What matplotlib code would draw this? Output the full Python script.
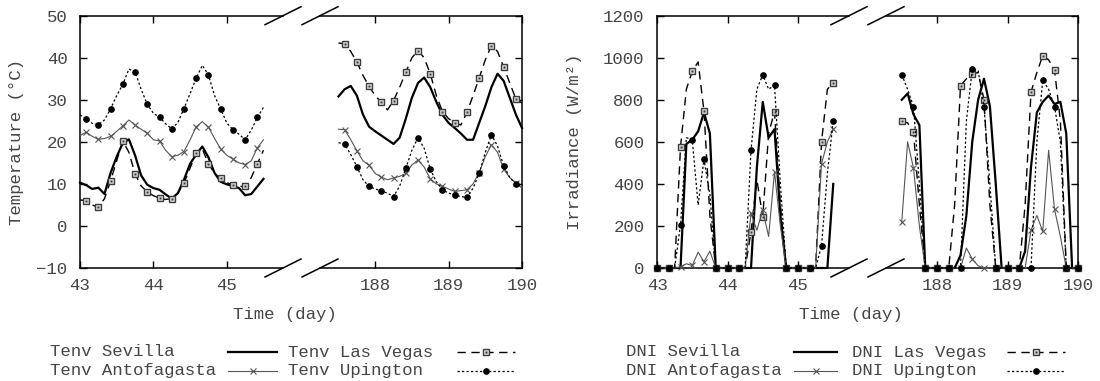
# Environment temperature and DNI for four sites, two short periods of the year
# drawn on broken time axes (gnuplot look).
import numpy as np
import matplotlib
matplotlib.use('Agg')
import matplotlib.pyplot as plt
from matplotlib.lines import Line2D

plt.rcParams['font.family'] = ['Liberation Mono', 'DejaVu Sans Mono']
plt.rcParams['font.size'] = 12.5

# time grid, 2 h steps, for each side of the break
timeA = 43 + np.arange(31) / 12.0
timeB = 187.5 + np.arange(31) / 12.0

# environment temperature (C), days 43-45.5
tempSevillaA = [10.3, 9.7, 8.8, 9.1, 7.6, 12.6, 16.5, 19.7, 20.6, 16.8, 12.0, 9.8, 9.0, 8.6, 7.5,
                6.5, 7.8, 11.0, 14.8, 17.0, 18.9, 16.3, 12.6, 10.5, 9.9, 9.5, 9.0, 7.3, 7.6, 9.4, 11.2]
tempLasVegasA = [6.2, 6.0, 5.0, 4.4, 6.5, 10.7, 15.5, 20.2, 17.5, 12.4, 9.5, 8.1, 7.2, 6.6, 6.3,
                 6.5, 7.8, 10.2, 13.8, 17.3, 18.3, 14.8, 12.5, 11.3, 10.3, 9.7, 9.4, 9.4, 11.5, 14.8, 18.0]
tempAntofagastaA = [21.5, 22.3, 21.3, 20.6, 20.8, 21.3, 22.5, 23.8, 25.2, 24.0, 23.0, 22.0, 20.5, 20.2, 18.0,
                    16.5, 16.8, 17.7, 20.5, 23.6, 24.8, 23.5, 20.8, 18.3, 16.8, 15.9, 15.0, 14.6, 15.5, 18.6, 20.5]
tempUpingtonA = [26.4, 25.5, 24.4, 24.1, 25.2, 27.9, 31.0, 33.7, 37.3, 36.7, 32.5, 28.9, 26.8, 25.9, 24.3,
                 23.1, 24.6, 27.9, 31.5, 35.2, 38.2, 35.9, 31.0, 27.8, 24.5, 22.9, 21.8, 20.5, 22.8, 25.8, 28.2]

# environment temperature (C), days 187.5-190
tempSevillaB = [30.8, 32.5, 33.3, 31.0, 26.5, 23.6, 22.5, 21.5, 20.5, 19.5, 21.0, 25.5, 30.5, 34.0, 35.3,
                33.0, 29.5, 26.4, 24.5, 23.3, 22.0, 20.5, 20.5, 24.5, 28.5, 33.0, 36.2, 34.5, 30.5, 26.5, 23.3]
tempLasVegasB = [43.5, 43.3, 41.5, 39.0, 35.8, 33.2, 31.0, 29.4, 27.6, 29.8, 33.0, 36.5, 40.0, 41.7, 40.0,
                 36.2, 31.0, 27.2, 25.5, 24.6, 24.0, 27.0, 31.0, 35.2, 39.5, 42.9, 41.5, 37.8, 34.0, 30.2, 29.2]
tempAntofagastaB = [23.0, 22.9, 20.5, 17.9, 15.5, 14.4, 12.5, 11.6, 11.0, 11.4, 11.8, 12.5, 14.5, 15.7, 14.0,
                    11.2, 10.0, 9.4, 8.8, 8.2, 8.4, 8.6, 10.0, 12.7, 16.5, 19.3, 17.5, 13.5, 11.5, 10.2, 9.0]
tempUpingtonB = [19.8, 19.5, 17.0, 14.1, 11.0, 9.4, 8.8, 8.3, 7.8, 7.0, 9.5, 13.7, 18.0, 21.0, 18.5,
                 13.5, 10.5, 8.6, 7.8, 7.4, 7.0, 6.8, 9.0, 12.5, 17.5, 21.7, 19.0, 14.3, 11.5, 10.0, 9.4]

# direct normal irradiance (W/m2), days 43-45.5
dniSevillaA = [0, 0, 0, 0, 0, 590, 610, 650, 740, 640, 0, 0, 0, 0, 0,
               0, 0, 480, 790, 620, 660, 250, 0, 0, 0, 0, 0, 0, 0, 0, 400]
dniLasVegasA = [0, 0, 0, 0, 576, 850, 936, 980, 745, 250, 0, 0, 0, 0, 0,
                0, 171, 420, 243, 640, 743, 300, 0, 0, 0, 0, 0, 0, 600, 850, 880]
dniAntofagastaA = [0, 0, 0, 0, 5, 20, 12, 75, 30, 80, 0, 0, 0, 0, 0,
                   0, 260, 180, 275, 150, 457, 200, 0, 0, 0, 0, 0, 0, 495, 600, 660]
dniUpingtonA = [0, 0, 0, 0, 205, 620, 610, 300, 517, 350, 0, 0, 0, 0, 0,
                0, 560, 850, 919, 850, 871, 400, 0, 0, 0, 0, 0, 0, 105, 450, 700]

# direct normal irradiance (W/m2), days 187.5-190
dniSevillaB = [800, 830, 730, 680, 0, 0, 0, 0, 0, 0, 60, 250, 600, 800, 900,
               770, 400, 0, 0, 0, 0, 80, 480, 740, 790, 820, 780, 790, 640, 0, 0]
dniLasVegasB = [700, 690, 646, 300, 0, 0, 0, 0, 0, 300, 866, 900, 923, 930, 800,
                300, 0, 0, 0, 0, 0, 300, 836, 930, 1010, 990, 942, 700, 0, 0, 0]
dniAntofagastaB = [220, 600, 475, 200, 0, 0, 0, 0, 0, 0, 0, 95, 43, 10, 0,
                   0, 0, 0, 0, 0, 0, 0, 180, 250, 174, 560, 280, 150, 0, 0, 0]
dniUpingtonB = [920, 850, 768, 400, 0, 0, 0, 0, 0, 0, 0, 700, 945, 940, 768,
                400, 0, 0, 0, 0, 0, 0, 0, 600, 893, 850, 768, 600, 0, 0, 0]

sites = ['Sevilla', 'Las Vegas', 'Antofagasta', 'Upington']
tempLabels = ['Tenv Sevilla', 'Tenv Las Vegas', 'Tenv Antofagasta', 'Tenv Upington']
dniLabels = ['DNI Sevilla', 'DNI Las Vegas', 'DNI Antofagasta', 'DNI Upington']

TEXT = '#454545'
W, H = 1100.0, 381.0

styles = {
    'Sevilla': dict(color='black', lw=1.6, ls='-'),
    'Las Vegas': dict(color='black', lw=1.0, ls=(0, (6, 4)), marker='s', ms=5,
                      mfc='#dcdcdc', mec='#3c3c3c', mew=1.0),
    'Antofagasta': dict(color='#555555', lw=0.8, ls='-', marker='x', ms=4.2,
                        mec='#555555', mew=0.8),
    'Upington': dict(color='black', lw=0.9, ls=(0, (1.8, 1.8)), marker='o', ms=3.8,
                     mfc='black', mec='black'),
}
# small dot drawn in the middle of the Las Vegas squares
centreDot = dict(ls='none', marker='s', ms=1.4, mfc='#333333', mec='#333333', mew=0)


def fx(px):
    return px / W


def fy(py):
    return 1 - py / H


def addAxes(fig, left, right, top=15.7, bottom=268.0):
    return fig.add_axes([fx(left), fy(bottom), (right - left) / W, (bottom - top) / H])


def styleAxes(ax, side):
    # frame, inward ticks on every side except the broken one
    for s in ax.spines.values():
        s.set_linewidth(1.1)
    ax.spines[side].set_visible(False)
    ax.tick_params(direction='in', length=5, width=1, top=True, labelcolor=TEXT,
                   labelsize=12.5, pad=7)
    if side == 'right':
        ax.tick_params(axis='y', right=False, pad=9)
    else:
        ax.tick_params(axis='y', left=False, labelleft=False, right=True)


def drawBreaks(fig, xLeft, xRight):
    # double slashes at both ends of the gap, top and bottom
    for xc in (xLeft, xRight):
        for yc in (15.7, 268.0):
            fig.add_artist(Line2D([fx(xc - 18), fx(xc + 18)], [fy(yc + 9), fy(yc - 9)],
                                  transform=fig.transFigure, color='black', lw=1.1))


def drawLegend(fig, labels, textX, sampleX, rows=(352, 371)):
    # gnuplot style key: label then sample, two columns
    order = [(0, 0), (1, 0), (0, 1), (1, 1)]
    for site, label, (col, row) in zip(sites, labels, order):
        y = fy(rows[row])
        fig.text(fx(textX[col]), y, label, ha='left', va='center', color=TEXT)
        x0, x1 = sampleX[col]
        xm = fx((x0 + x1) / 2)
        fig.add_artist(Line2D([fx(x0), xm, fx(x1)], [y] * 3,
                              transform=fig.transFigure, markevery=[1], **styles[site]))
        if site == 'Las Vegas':
            fig.add_artist(Line2D([xm], [y], transform=fig.transFigure, **centreDot))


def plotSeries(ax, times, series, markStart):
    for site, vals in zip(sites, series):
        marks = slice(markStart, None, 2)
        ax.plot(times, vals, markevery=marks, clip_on=False, zorder=3, **styles[site])
        if site == 'Las Vegas':
            ax.plot(times[marks], np.asarray(vals)[marks], clip_on=False, zorder=3, **centreDot)


def drawPanel(fig, boxA, boxB, limA, limB, ylim, yticks, seriesA, seriesB, markStart,
              ylabel, ylabelX, xlabelX):
    axA = addAxes(fig, *boxA)
    axB = addAxes(fig, *boxB)
    plotSeries(axA, timeA, seriesA, markStart)
    plotSeries(axB, timeB, seriesB, markStart)
    axA.set_xlim(limA)
    axB.set_xlim(limB)
    for ax in (axA, axB):
        ax.set_ylim(ylim)
        ax.set_yticks(yticks)
    axA.set_xticks([43, 44, 45])
    axB.set_xticks([188, 189, 190])
    styleAxes(axA, 'right')
    styleAxes(axB, 'left')
    drawBreaks(fig, boxA[1], boxB[0])
    fig.text(fx(ylabelX), fy(142), ylabel, rotation=90, ha='center', va='center', color=TEXT)
    fig.text(fx(xlabelX), fy(315), 'Time (day)', ha='center', va='center', color=TEXT)


fig = plt.figure(figsize=(11, 3.81), dpi=100)

# temperature panel, 73.4 px per day
drawPanel(fig, (80, 283), (320, 522), (43, 43 + 203 / 73.4), (190 - 202 / 73.4, 190),
          (-10, 50), range(-10, 51, 10),
          [tempSevillaA, tempLasVegasA, tempAntofagastaA, tempUpingtonA],
          [tempSevillaB, tempLasVegasB, tempAntofagastaB, tempUpingtonB],
          1, 'Temperature (°C)', 17, 285)
drawLegend(fig, tempLabels, (50, 288), ((228, 277), (457, 515)))

# irradiance panel, 70.5 px per day
drawPanel(fig, (657, 849), (886, 1078), (43, 43 + 192 / 70.5), (190 - 192 / 70.5, 190),
          (0, 1200), range(0, 1201, 200),
          [dniSevillaA, dniLasVegasA, dniAntofagastaA, dniUpingtonA],
          [dniSevillaB, dniLasVegasB, dniAntofagastaB, dniUpingtonB],
          0, 'Irradiance (W/m²)', 575, 851)
drawLegend(fig, dniLabels, (626, 852), ((794, 837), (1007, 1065)))

fig.savefig('out.png', dpi=100)
